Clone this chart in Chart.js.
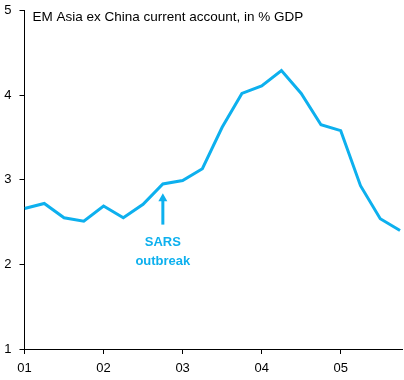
<!DOCTYPE html>
<html><head><meta charset="utf-8">
<script src="https://cdn.jsdelivr.net/npm/chart.js@4/dist/chart.umd.min.js"></script>
<style>html,body{margin:0;padding:0;background:#fff}#wrap{width:404px;height:380px}</style>
</head><body><div id="wrap"><canvas id="c" width="404" height="380"></canvas></div>
<script>
const quarters = ['01Q1','01Q2','01Q3','01Q4','02Q1','02Q2','02Q3','02Q4','03Q1','03Q2','03Q3','03Q4','04Q1','04Q2','04Q3','04Q4','05Q1','05Q2','05Q3','05Q4'];
const currentAccount = [2.66,2.72,2.55,2.51,2.69,2.55,2.71,2.95,2.99,3.13,3.62,4.02,4.11,4.29,4.02,3.65,3.58,2.93,2.54,2.40];
const xTickPositions = [0,4,8,12,16];
const xTickLabels = ['01','02','03','04','05'];
const yTicks = [1,2,3,4,5];
const titleText = 'EM Asia ex China current account, in % GDP';
const annotationLines = ['SARS','outbreak'];
const annotationIndex = 7;
const arrowFrom = 2.47, arrowTo = 2.84;
const annotationValues = [2.26, 2.03];

const BLUE = '#0db0ee';
const FONT = "'Liberation Sans', Arial, sans-serif";

const overlay = {
  id:'overlay',
  afterDatasetsDraw(chart){
    const {ctx, chartArea, scales:{x,y}} = chart;
    ctx.save();
    ctx.fillStyle = '#000';
    ctx.font = '13.5px ' + FONT;
    ctx.textBaseline = 'middle';
    ctx.textAlign = 'left';
    ctx.fillText(titleText, chartArea.left + 8, chartArea.top + 7);
    const ax = x.getPixelForValue(annotationIndex);
    const yb = y.getPixelForValue(arrowFrom), yt = y.getPixelForValue(arrowTo);
    ctx.strokeStyle = BLUE; ctx.fillStyle = BLUE; ctx.lineWidth = 3;
    ctx.beginPath(); ctx.moveTo(ax, yb); ctx.lineTo(ax, yt + 6); ctx.stroke();
    ctx.beginPath(); ctx.moveTo(ax, yt); ctx.lineTo(ax - 4.5, yt + 8); ctx.lineTo(ax + 4.5, yt + 8); ctx.closePath(); ctx.fill();
    ctx.font = 'bold 13px ' + FONT;
    ctx.textAlign = 'center';
    annotationLines.forEach((t,i)=>ctx.fillText(t, ax, y.getPixelForValue(annotationValues[i])));
    ctx.restore();
  }
};

new Chart(document.getElementById('c'), {
  type:'line',
  data:{ datasets:[{ data: currentAccount.map((v,i)=>({x:i, y:v})), borderColor: BLUE, borderWidth:3, pointRadius:0, tension:0, fill:false, borderJoinStyle:'miter' }]},
  options:{
    responsive:false, animation:false, devicePixelRatio:1,
    layout:{padding:{left:0,right:2,top:10.5,bottom:0}},
    plugins:{legend:{display:false}, tooltip:{enabled:false}},
    scales:{
      x:{ type:'linear', min:0, max:19.1,
        afterBuildTicks(s){ s.ticks = xTickPositions.map(v=>({value:v})); },
        afterFit(s){ s.height = 31; s.paddingLeft = 0; s.paddingRight = 0; },
        grid:{display:true, drawOnChartArea:false, drawTicks:true, tickLength:5, color:'#000', lineWidth:1},
        border:{display:true, color:'#000', width:1},
        ticks:{ color:'#000', font:{family:FONT, size:13}, padding:7, maxRotation:0, autoSkip:false,
          callback(v){ const i = xTickPositions.indexOf(v); return i>=0 ? xTickLabels[i] : ''; } }
      },
      y:{ min:1, max:5,
        afterBuildTicks(s){ s.ticks = yTicks.map(v=>({value:v})); },
        afterFit(s){ s.width = 24.5; s.paddingTop = 0; s.paddingBottom = 0; },
        grid:{display:true, drawOnChartArea:false, drawTicks:true, tickLength:5, color:'#000', lineWidth:1},
        border:{display:true, color:'#000', width:1},
        ticks:{ color:'#000', font:{family:FONT, size:13}, padding:8, callback(v){ return String(v); } }
      }
    }
  },
  plugins:[overlay]
});
</script></body></html>
